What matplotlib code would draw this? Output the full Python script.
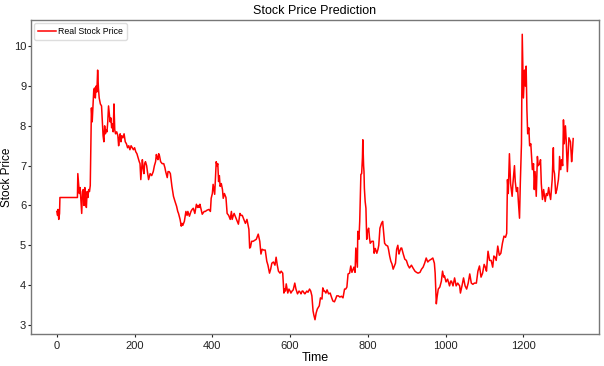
import numpy as np
import matplotlib
matplotlib.use("Agg")
from matplotlib import pyplot as plt

plt.rcParams['font.family'] = ['Liberation Sans', 'DejaVu Sans']

# digitised readings: time index and real price
time = [0, 2, 3, 5, 7, 8, 53, 54, 56, 58, 60, 62, 64, 66, 68, 70, 72, 74, 76, 78,
        80, 82, 84, 86, 88, 89, 91, 93, 95, 97, 99, 101, 103, 105, 107, 109, 112, 115, 117, 119,
        121, 123, 125, 127, 129, 131, 133, 135, 137, 139, 141, 143, 145, 147, 149, 151, 154, 157, 159, 161,
        163, 165, 167, 170, 173, 176, 179, 182, 185, 188, 191, 194, 197, 200, 203, 206, 209, 212, 214, 216,
        218, 220, 222, 224, 226, 228, 231, 233, 236, 240, 244, 248, 251, 254, 256, 258, 260, 262, 264, 267,
        271, 275, 278, 280, 284, 286, 289, 292, 296, 300, 304, 308, 311, 313, 317, 320, 322, 324, 328, 332,
        335, 337, 341, 345, 348, 351, 355, 359, 362, 364, 366, 368, 371, 374, 379, 382, 386, 391, 395, 397,
        400, 402, 404, 406, 408, 410, 412, 414, 416, 418, 420, 423, 426, 428, 431, 435, 438, 442, 446, 449,
        451, 454, 456, 460, 464, 467, 471, 474, 477, 481, 485, 489, 492, 494, 496, 498, 501, 505, 508, 513,
        518, 522, 525, 528, 532, 536, 540, 543, 547, 550, 553, 557, 561, 564, 567, 570, 574, 577, 581, 584,
        586, 588, 590, 594, 597, 600, 602, 605, 608, 612, 615, 619, 623, 626, 628, 631, 633, 636, 638, 643,
        646, 650, 653, 656, 659, 661, 664, 667, 670, 672, 675, 678, 682, 684, 687, 689, 692, 695, 699, 703,
        707, 710, 714, 717, 720, 724, 728, 732, 736, 740, 743, 746, 749, 753, 756, 759, 762, 764, 767, 769,
        771, 773, 774, 777, 779, 782, 784, 786, 787, 789, 790, 791, 793, 795, 797, 799, 802, 804, 806, 810,
        814, 816, 819, 823, 826, 828, 831, 835, 838, 841, 843, 847, 851, 853, 856, 859, 862, 865, 867, 871,
        874, 877, 880, 882, 885, 887, 891, 895, 899, 903, 907, 912, 916, 921, 925, 929, 934, 938, 942, 946,
        950, 954, 958, 963, 967, 971, 973, 976, 978, 981, 985, 989, 992, 995, 997, 1001, 1005, 1008, 1010, 1013,
        1015, 1019, 1023, 1027, 1031, 1036, 1038, 1042, 1046, 1050, 1054, 1058, 1062, 1066, 1070, 1074, 1079, 1083, 1087, 1091,
        1095, 1099, 1102, 1105, 1109, 1113, 1117, 1121, 1124, 1127, 1130, 1134, 1138, 1142, 1146, 1150, 1154, 1157, 1159, 1161,
        1164, 1167, 1171, 1173, 1177, 1179, 1182, 1185, 1187, 1190, 1192, 1195, 1197, 1200, 1203, 1205, 1207, 1209, 1211, 1214,
        1216, 1219, 1221, 1223, 1226, 1228, 1230, 1233, 1236, 1238, 1242, 1244, 1246, 1249, 1252, 1256, 1259, 1262, 1265, 1267,
        1270, 1274, 1277, 1278, 1280, 1283, 1286, 1290, 1292, 1293, 1296, 1298, 1301, 1303, 1305, 1308, 1310, 1313, 1317, 1321,
        1324, 1326, 1328]

price = [5.85, 5.75, 5.9, 5.65, 5.8, 6.2, 6.2, 6.8, 6.55, 6.3, 6.45, 6.1, 5.8, 6.35, 6.4, 6.0, 6.45, 6.1, 5.95, 6.35,
         6.2, 6.4, 6.35, 6.5, 7.9, 8.45, 8.1, 8.5, 8.9, 8.95, 8.7, 9.0, 8.85, 9.4, 8.95, 8.7, 8.55, 8.5, 8.1, 7.75,
         7.6, 8.0, 7.8, 7.9, 7.85, 8.1, 8.5, 8.3, 8.1, 8.2, 7.95, 8.05, 7.85, 8.55, 7.9, 7.8, 7.85, 7.75, 7.5, 7.7,
         7.8, 7.6, 7.75, 7.7, 7.8, 7.6, 7.55, 7.45, 7.5, 7.4, 7.5, 7.45, 7.4, 7.45, 7.35, 7.3, 7.2, 7.1, 7.05, 6.65,
         6.9, 7.15, 6.95, 6.8, 7.05, 7.1, 7.0, 6.85, 6.65, 6.8, 6.75, 6.85, 7.0, 7.1, 7.28, 7.2, 7.15, 7.3, 7.25, 7.1,
         7.05, 7.05, 6.95, 6.85, 6.7, 6.85, 6.85, 6.8, 6.48, 6.23, 6.1, 5.98, 5.85, 5.8, 5.65, 5.48, 5.55, 5.5, 5.6, 5.85,
         5.75, 5.85, 5.73, 5.85, 5.9, 5.93, 5.8, 6.03, 5.95, 6.0, 5.95, 6.03, 5.9, 5.78, 5.85, 5.85, 5.88, 5.9, 5.85, 6.18,
         6.3, 6.53, 6.4, 6.28, 6.7, 7.1, 7.0, 7.05, 6.6, 6.75, 6.48, 6.55, 6.4, 6.18, 6.3, 6.2, 5.8, 5.75, 5.65, 5.85,
         5.65, 5.75, 5.8, 5.7, 5.6, 5.53, 5.8, 5.75, 5.75, 5.65, 5.55, 5.65, 5.5, 5.4, 4.93, 4.95, 5.1, 5.1, 5.12, 5.15,
         5.28, 5.1, 4.78, 4.9, 4.88, 4.88, 4.6, 4.5, 4.3, 4.4, 4.55, 4.58, 4.5, 4.7, 4.5, 4.35, 4.3, 4.35, 4.3, 3.8,
         3.9, 3.85, 4.03, 3.8, 3.9, 3.85, 3.8, 3.85, 3.88, 4.05, 3.9, 3.78, 3.85, 3.82, 3.78, 3.85, 3.85, 3.8, 3.78, 3.85,
         3.82, 3.9, 3.85, 3.73, 3.35, 3.25, 3.13, 3.3, 3.4, 3.43, 3.48, 3.68, 3.65, 3.93, 3.85, 3.85, 3.8, 3.88, 3.78, 3.8,
         3.68, 3.6, 3.58, 3.65, 3.73, 3.73, 3.7, 3.72, 3.68, 3.9, 3.9, 3.95, 4.28, 4.3, 4.48, 4.32, 4.4, 4.45, 4.32, 4.93,
         4.7, 4.45, 5.35, 5.15, 5.6, 6.78, 6.8, 7.2, 7.65, 7.0, 6.85, 6.43, 6.1, 5.93, 5.15, 5.35, 5.43, 5.2, 5.05, 5.1,
         5.1, 4.8, 4.92, 4.8, 4.9, 5.0, 5.43, 5.55, 5.6, 5.25, 5.05, 5.0, 4.98, 4.9, 4.73, 4.6, 4.53, 4.4, 4.45, 4.55,
         4.9, 5.0, 4.78, 4.85, 4.93, 4.93, 4.78, 4.65, 4.62, 4.5, 4.43, 4.5, 4.43, 4.35, 4.32, 4.3, 4.32, 4.4, 4.45, 4.55,
         4.68, 4.58, 4.62, 4.65, 4.68, 4.55, 4.3, 3.53, 3.7, 3.9, 3.95, 4.1, 4.35, 4.2, 4.23, 4.08, 4.15, 4.05, 3.98, 4.1,
         4.1, 3.98, 4.18, 3.98, 4.05, 3.98, 3.8, 3.98, 4.18, 3.98, 3.9, 4.05, 4.28, 4.05, 4.02, 4.05, 4.05, 4.35, 4.48, 4.2,
         4.3, 4.52, 4.45, 4.35, 4.85, 4.62, 4.62, 4.45, 4.73, 4.7, 4.62, 4.98, 4.75, 4.8, 5.05, 5.23, 5.2, 5.3, 6.65, 6.3,
         7.3, 6.55, 6.23, 6.55, 7.0, 6.6, 6.35, 6.45, 6.1, 5.68, 6.55, 7.55, 10.3, 8.7, 9.4, 9.0, 9.5, 8.4, 7.8, 7.95,
         7.5, 7.55, 7.2, 6.9, 7.05, 6.4, 6.85, 6.23, 7.23, 7.0, 7.05, 7.15, 6.55, 6.15, 6.4, 6.1, 6.3, 6.25, 6.45, 6.3,
         6.15, 6.65, 7.45, 6.9, 6.8, 6.3, 6.4, 6.65, 6.9, 7.23, 6.9, 7.15, 7.0, 8.15, 7.55, 8.0, 7.65, 6.85, 7.7, 7.6,
         7.1, 7.35, 7.68]

fig = plt.figure(figsize=(6.04, 3.66), dpi=100)
ax = fig.add_axes([31/604, 1 - 334/366, 568/604, 314/366])
ax.plot(time, price, color='red', linewidth=1.1, label='Real Stock Price')

for s in ax.spines.values():
    s.set_color('#777777')
    s.set_linewidth(1.0)
ax.tick_params(colors='#222222', labelsize=8, length=2.5, width=0.8, pad=1)
ax.tick_params(axis='x', pad=2.5)
ax.set_yticks([3, 4, 5, 6, 7, 8, 9, 10])
ax.set_xticks([0, 200, 400, 600, 800, 1000, 1200])
ax.set_title('Stock Price Prediction', fontsize=9, pad=4)
ax.set_xlabel('Time', fontsize=9, labelpad=1)
ax.set_ylabel('Stock Price', fontsize=8.5, labelpad=0.5)
ax.legend(loc='upper left', fontsize=6.3, handlelength=2, handletextpad=0.25,
          borderpad=0.45, borderaxespad=0.35, framealpha=1,
          edgecolor='#dddddd', fancybox=True)

fig.savefig('out.png', dpi=100)
